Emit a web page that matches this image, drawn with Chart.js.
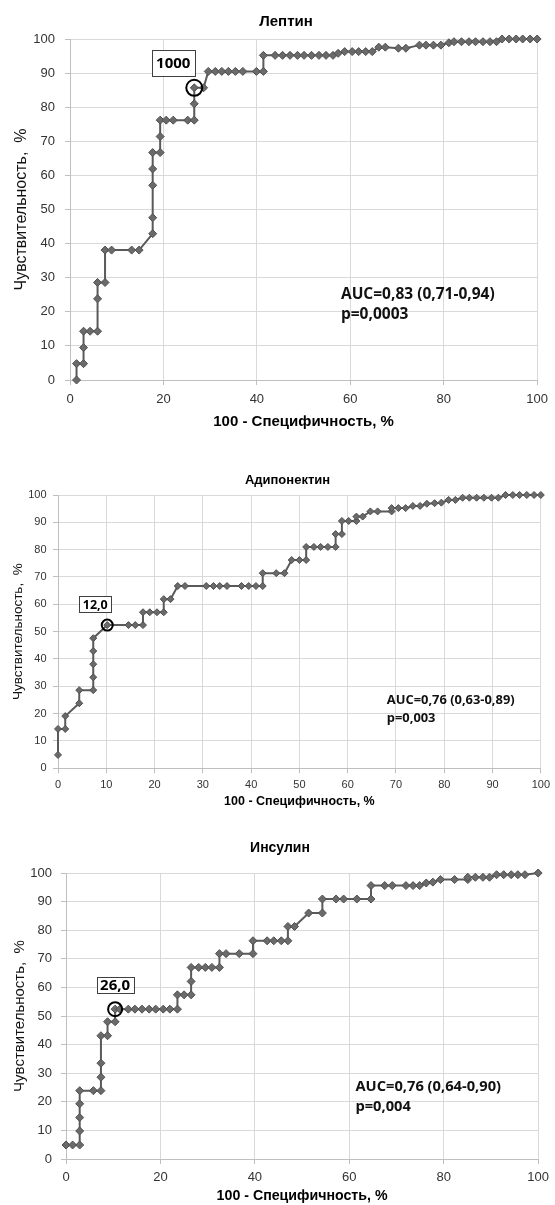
<!DOCTYPE html>
<html lang="ru">
<head>
<meta charset="UTF-8">
<title>ROC-кривые</title>
<script src="https://cdn.jsdelivr.net/npm/chart.js@4.4.0/dist/chart.umd.min.js"></script>
<style>
    body { margin: 0; background: #fff; width: 555px; height: 1205px; position: relative; overflow: hidden; }
    .box { position: absolute; left: 0; width: 555px; }
</style>
</head>
<body>
<div class="box" style="top:0;height:432px"><canvas id="c1"></canvas></div>
<div class="box" style="top:440px;height:372px"><canvas id="c2"></canvas></div>
<div class="box" style="top:820px;height:385px"><canvas id="c3"></canvas></div>

<script>
// Лептин
const lepX = [1.4,1.4,2.9,2.9,2.9,4.3,5.9,5.9,5.9,7.5,7.5,8.9,13.2,14.8,17.7,17.7,17.7,17.7,17.7,19.3,19.3,19.3,20.6,22.1,25.2,26.6,26.6,26.6,28.6,29.6,31.1,32.5,33.9,35.4,37.0,39.9,41.4,41.4,43.9,45.5,47.1,48.7,50.1,51.7,53.3,54.8,56.3,57.4,58.8,60.4,61.8,63.3,64.7,66.1,67.5,70.3,71.9,74.8,76.2,77.8,79.4,81.1,82.2,83.8,85.4,86.8,88.4,89.9,91.3,92.5,94.0,95.5,96.9,98.5,100];
const lepY = [0,4.8,4.8,9.5,14.3,14.3,14.3,23.8,28.6,28.6,38.1,38.1,38.1,38.1,42.9,47.6,57.1,61.9,66.7,66.7,71.4,76.2,76.2,76.2,76.2,76.2,81.0,85.7,85.7,90.5,90.5,90.5,90.5,90.5,90.5,90.5,90.5,95.2,95.2,95.2,95.2,95.2,95.2,95.2,95.2,95.2,95.2,95.8,96.3,96.3,96.3,96.3,96.3,97.6,97.6,97.3,97.3,98.2,98.2,98.2,98.2,98.9,99.2,99.2,99.2,99.2,99.2,99.2,99.2,100,100,100,100,100,100];

// Адипонектин
const adiX = [0,0,1.5,1.5,4.4,4.4,7.3,7.3,7.3,7.3,7.3,10.2,14.6,16.0,17.6,17.6,19.0,20.5,21.9,21.9,23.3,24.8,26.3,30.7,32.2,33.5,35.0,38.0,39.5,41.0,42.4,42.4,45.2,46.9,48.4,50.0,51.4,51.4,53.0,54.4,55.9,57.5,57.5,58.8,58.8,60.2,61.8,61.8,63.1,64.7,66.2,69.1,69.1,70.5,72.0,73.5,75.0,76.4,78.0,79.4,80.9,82.3,83.8,85.2,86.7,88.2,89.8,91.2,92.7,94.2,95.6,97.1,98.6,100];
const adiY = [4.9,14.4,14.4,19.1,23.8,28.6,28.6,33.3,38.1,42.9,47.6,52.4,52.4,52.4,52.4,57.1,57.1,57.1,57.1,61.9,61.9,66.7,66.7,66.7,66.7,66.7,66.7,66.7,66.7,66.7,66.7,71.4,71.4,71.4,76.2,76.2,76.2,81.0,81.0,81.0,81.0,81.0,85.7,85.7,90.5,90.5,90.5,92.1,92.1,94.0,94.0,94.0,95.2,95.2,95.2,96.0,96.0,96.8,97.0,97.2,98.2,98.2,99.0,99.0,99.0,99.0,99.0,99.0,100,100,100,100,100,100];

// Инсулин
const insX = [0,1.4,2.9,2.9,2.9,2.9,2.9,5.8,7.4,7.4,7.4,7.4,8.8,8.8,10.4,10.4,11.4,13.2,14.6,16.1,17.6,19.0,20.6,22.0,23.6,23.6,25.0,26.5,26.5,26.5,28.1,29.5,30.9,32.5,32.5,33.9,36.7,39.6,39.6,42.6,44.0,45.6,47.0,47.0,48.4,51.4,54.3,54.3,57.2,58.8,61.6,64.6,64.6,67.5,69.1,72.0,73.5,74.9,76.3,77.7,79.3,82.3,85.1,85.1,86.7,88.3,89.7,91.2,92.7,94.3,95.7,97.2,100];
const insY = [4.9,4.9,4.9,9.8,14.5,19.3,23.9,23.9,23.9,28.6,33.5,43.1,43.1,48.0,48.0,52.4,52.4,52.4,52.4,52.4,52.4,52.4,52.4,52.4,52.4,57.4,57.4,57.4,62.1,67.0,67.0,67.0,67.0,67.0,71.8,71.8,71.8,71.8,76.3,76.3,76.3,76.3,76.3,81.3,81.3,86.0,86.0,90.9,90.9,90.9,90.9,90.9,95.6,95.6,95.6,95.6,95.6,95.6,96.5,96.8,97.7,97.7,97.7,98.5,98.5,98.5,98.5,99.4,99.4,99.4,99.4,99.4,100];

// точки отсечения и подписи
const lepCut = [26.6, 85.7], adiCut = [10.2, 52.4], insCut = [10.4, 52.4];
const lepAuc = ['AUC=0,83 (0,71-0,94)', 'p=0,0003'];
const adiAuc = ['AUC=0,76 (0,63-0,89)', 'p=0,003'];
const insAuc = ['AUC=0,76 (0,64-0,90)', 'p=0,004'];

const xTicks20 = [0, 20, 40, 60, 80, 100];
const xTicks10 = [0, 10, 20, 30, 40, 50, 60, 70, 80, 90, 100];
const yTicks = [0, 10, 20, 30, 40, 50, 60, 70, 80, 90, 100];

const AXIS_FONT = '"Liberation Sans", Arial, sans-serif';
const NOTE_FONT = '"Open Sans", Lato, sans-serif';

// заголовок, кружок на точке отсечения, рамка с порогом и AUC
const extras = {
    id: 'extras',
    afterDatasetsDraw(chart, args, o) {
        const ctx = chart.ctx, x = chart.scales.x, y = chart.scales.y;
        ctx.save();
        ctx.fillStyle = '#000';
        ctx.textAlign = 'center';
        ctx.textBaseline = 'middle';
        ctx.font = 'bold ' + o.titleSize + 'px ' + AXIS_FONT;
        ctx.fillText(o.title, o.titlePos[0], o.titlePos[1]);

        const cx = x.getPixelForValue(o.cut[0]), cy = y.getPixelForValue(o.cut[1]);
        ctx.lineWidth = 2;
        ctx.strokeStyle = '#000';
        ctx.beginPath();
        ctx.arc(cx, cy, o.ring, 0, Math.PI * 2);
        ctx.stroke();

        const b = o.box, bx = cx + b[0], by = cy + b[1];
        ctx.fillStyle = '#fff';
        ctx.fillRect(bx - b[2] / 2, by - b[3] / 2, b[2], b[3]);
        ctx.lineWidth = 1;
        ctx.strokeStyle = '#404040';
        ctx.strokeRect(Math.round(bx - b[2] / 2) + 0.5, Math.round(by - b[3] / 2) + 0.5, b[2], b[3]);
        ctx.fillStyle = '#000';
        ctx.font = 'bold ' + o.boxFont + 'px ' + NOTE_FONT;
        ctx.fillText(o.cutLabel, bx, by + 1);

        ctx.textAlign = 'left';
        ctx.fillStyle = '#111';
        ctx.font = 'bold ' + o.aucFont + 'px ' + NOTE_FONT;
        const ax = x.getPixelForValue(o.aucPos[0]), ay = y.getPixelForValue(o.aucPos[1]);
        o.auc.forEach((t, i) => ctx.fillText(t, ax, ay + i * o.aucGap));
        ctx.restore();
    }
};

function makeChart(id, s) {
    return new Chart(document.getElementById(id), {
        type: 'scatter',
        data: {
            datasets: [{
                data: s.xs.map((v, i) => ({ x: v, y: s.ys[i] })),
                showLine: true,
                borderColor: '#5a5a5a',
                borderWidth: 2,
                pointStyle: 'rectRot',
                pointRadius: s.dot,
                pointBackgroundColor: '#6a6a6a',
                pointBorderColor: '#505050',
                pointBorderWidth: 1,
                clip: false
            }]
        },
        options: {
            responsive: true,
            maintainAspectRatio: false,
            animation: false,
            events: [],
            layout: { padding: { top: s.top, right: 555 - s.right, left: 0, bottom: 0 } },
            plugins: {
                legend: { display: false },
                tooltip: { enabled: false },
                extras: s.extras
            },
            scales: {
                x: {
                    type: 'linear', min: 0, max: 100,
                    afterBuildTicks: sc => { sc.ticks = s.xTicks.map(v => ({ value: v })); },
                    afterFit: sc => { sc.height = s.xH; },
                    grid: { color: '#d9d9d9', tickLength: 5, tickColor: '#bfbfbf' },
                    border: { color: '#bfbfbf' },
                    ticks: { font: { family: AXIS_FONT, size: s.tick }, color: '#333', padding: s.xPad, maxRotation: 0, autoSkip: false },
                    title: { display: true, text: '100 - Специфичность, %', color: '#000',
                             font: { family: AXIS_FONT, size: s.xTitle, weight: 'bold' }, padding: { top: 0, bottom: s.xTitlePad } }
                },
                y: {
                    type: 'linear', min: 0, max: 100,
                    afterBuildTicks: sc => { sc.ticks = yTicks.map(v => ({ value: v })); },
                    afterFit: sc => { sc.width = s.left; },
                    grid: { color: '#d9d9d9', tickLength: 5, tickColor: '#bfbfbf' },
                    border: { color: '#bfbfbf' },
                    ticks: { font: { family: AXIS_FONT, size: s.tick }, color: '#333', padding: s.yPad },
                    title: { display: true, text: 'Чувствительность,  %', color: '#111',
                             font: { family: AXIS_FONT, size: s.yTitle }, padding: { top: s.yTitlePad, bottom: 0 } }
                }
            }
        },
        plugins: [extras]
    });
}

makeChart('c1', {
    xs: lepX, ys: lepY, xTicks: xTicks20, dot: 4,
    top: 39, left: 70, right: 540, xH: 52,
    tick: 13, xPad: 7, yPad: 10, xTitle: 15, xTitlePad: 1, yTitle: 16, yTitlePad: 12,
    extras: { title: 'Лептин', titleSize: 15, titlePos: [286, 22], cut: lepCut, ring: 8, cutLabel: '1000',
              box: [-21, -25, 43, 26], boxFont: 15, auc: lepAuc, aucPos: [58, 25], aucFont: 15.5, aucGap: 20 }
});

makeChart('c2', {
    xs: adiX, ys: adiY, xTicks: xTicks10, dot: 3.5,
    top: 55, left: 58, right: 545.5, xH: 43.7,
    tick: 11, xPad: 5, yPad: 6.5, xTitle: 12.5, xTitlePad: 3, yTitle: 13.5, yTitlePad: 10,
    extras: { title: 'Адипонектин', titleSize: 13, titlePos: [287.5, 40], cut: adiCut, ring: 5.5, cutLabel: '12,0',
              box: [-12, -21, 32, 16], boxFont: 12.5, auc: adiAuc, aucPos: [68.1, 25], aucFont: 12.9, aucGap: 18 }
});

makeChart('c3', {
    xs: insX, ys: insY, xTicks: xTicks20, dot: 4,
    top: 53, left: 66, right: 541, xH: 46,
    tick: 13, xPad: 6, yPad: 9, xTitle: 14.2, xTitlePad: 0, yTitle: 15, yTitlePad: 11,
    extras: { title: 'Инсулин', titleSize: 14, titlePos: [280, 28], cut: insCut, ring: 7, cutLabel: '26,0',
              box: [0, -24, 37, 16], boxFont: 15, auc: insAuc, aucPos: [61.3, 25.2], aucFont: 14.7, aucGap: 20 }
});
</script>
</body>
</html>
